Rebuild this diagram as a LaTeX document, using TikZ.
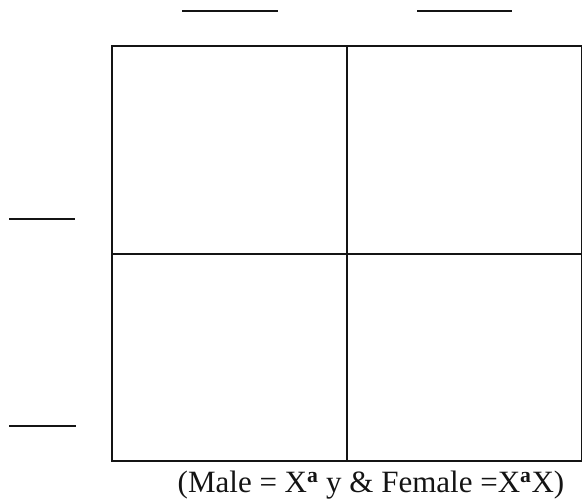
\documentclass[tikz,border=0pt]{standalone}
\usepackage{fontspec}
\setmainfont{Liberation Serif}
\usetikzlibrary{positioning}
\definecolor{ink}{RGB}{20,20,20}
\tikzset{
  every picture/.style={color=ink, line width=2pt},
  cell/.style={draw=ink, minimum width=235pt, minimum height=207.5pt, inner sep=0pt, outer sep=0pt},
  blank/.style={draw=ink, line width=1.6pt},
  caption/.style={font=\fontsize{31}{37}\selectfont, inner sep=0pt},
}

\begin{document}
\begin{tikzpicture}[x=1pt, y=-1pt]
  \useasboundingbox (0,0) rectangle (582,501);
  % punnett square
  \node[cell, anchor=north west] (aa) at (112,46) {};
  \node[cell, right=0pt of aa] (ab) {};
  \node[cell, below=0pt of aa] (ba) {};
  \node[cell, right=0pt of ba] (bb) {};
  % blanks for the gametes
  \coordinate (topA) at (182,11); \coordinate (topAend) at (278,11);
  \coordinate (topB) at (417,11); \coordinate (topBend) at (512,11);
  \coordinate (sideA) at (9,219); \coordinate (sideAend) at (75,219);
  \coordinate (sideB) at (9,426); \coordinate (sideBend) at (76,426);
  \draw[blank] (topA) -- (topAend); \draw[blank] (topB) -- (topBend);
  \draw[blank] (sideA) -- (sideAend); \draw[blank] (sideB) -- (sideBend);
  \node[caption, anchor=base] (cross) at (371,492) {(Male = X\textsuperscript{\textbf{a}} y \& Female =X\textsuperscript{\textbf{a}}X)};
\end{tikzpicture}
\end{document}
